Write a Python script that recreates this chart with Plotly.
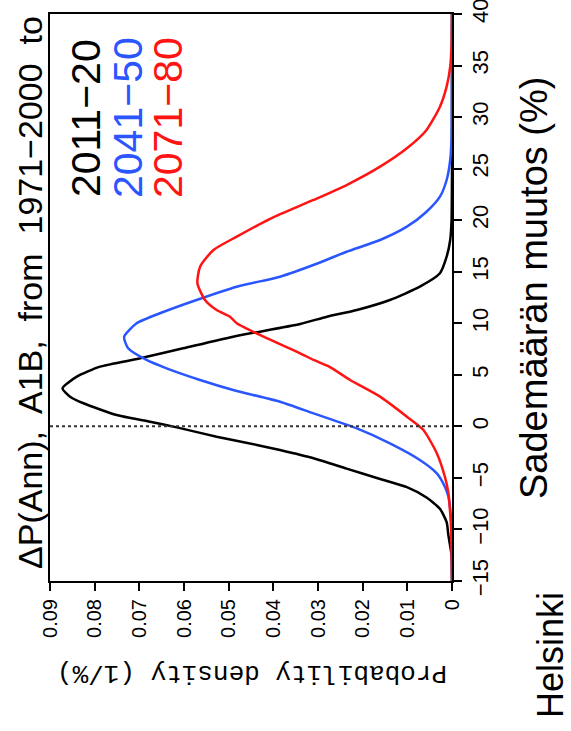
import plotly.graph_objects as go

# Precipitation change (%) and probability density (1/%)
black_change = [-15, -12.5, -10.6, -9.3, -8.0, -6.9, -5.9, -5.1, -4.1, -3.1, -2.3, -1.8, -1.0, -0.1, 0.45, 1.1, 2.24, 2.88, 3.69, 4.82, 5.79, 6.6, 7.57, 8.7, 9.93, 10.64, 11.29, 12.26, 13.55, 14.85, 16.46, 18.08, 20, 25, 40]
black_density = [0, 0.0001, 0.0008, 0.0012, 0.0027, 0.0057, 0.0101, 0.0161, 0.0236, 0.031, 0.0385, 0.0437, 0.0527, 0.0616, 0.0676, 0.0751, 0.0825, 0.0855, 0.0872, 0.084, 0.0788, 0.0698, 0.0602, 0.049, 0.034, 0.028, 0.0213, 0.0139, 0.0072, 0.0027, 0.0012, 0.0004, 0.0001, 0, 0]

blue_change = [-15, -10, -8.5, -6.82, -5.85, -4.56, -3.26, -1.65, -0.2, 1.26, 2.39, 3.53, 4.5, 5.63, 6.44, 7.57, 8.7, 10.0, 10.97, 12.26, 13.55, 14.52, 15.82, 16.94, 18.08, 19.37, 20.82, 22.28, 23.9, 25.84, 28, 40]
blue_density = [0, 0.0001, 0.0003, 0.0008, 0.0016, 0.0034, 0.0072, 0.0139, 0.0213, 0.031, 0.0385, 0.049, 0.0564, 0.0639, 0.0684, 0.0725, 0.0734, 0.0706, 0.0654, 0.0572, 0.0482, 0.0385, 0.03, 0.0236, 0.0161, 0.0101, 0.0057, 0.0027, 0.0012, 0.0004, 0.0001, 0]

red_change = [-15, -10, -8.43, -6.49, -4.88, -2.61, -0.35, 0.94, 2.88, 4.5, 5.8, 6.44, 7.09, 8.7, 10.0, 10.64, 11.29, 12.26, 13.88, 15.49, 17.11, 18.4, 20.18, 21.96, 23.41, 25.19, 26.97, 28.75, 31.01, 32.95, 34.89, 37, 40]
red_density = [0, 0.0002, 0.0004, 0.0008, 0.0016, 0.0034, 0.0064, 0.0101, 0.0161, 0.0228, 0.0275, 0.031, 0.034, 0.0422, 0.0482, 0.0497, 0.0527, 0.0553, 0.057, 0.0564, 0.0534, 0.0482, 0.0405, 0.031, 0.0236, 0.0161, 0.0101, 0.0057, 0.0027, 0.0012, 0.0004, 0.0001, 0]

series_labels = ["2011\u221220", "2041\u221250", "2071\u221280"]
series_colors = ["#000000", "#2a55ff", "#ff1414"]

density_ticks = [0, 0.01, 0.02, 0.03, 0.04, 0.05, 0.06, 0.07, 0.08, 0.09]
density_ticktext = ["0", "0.01", "0.02", "0.03", "0.04", "0.05", "0.06", "0.07", "0.08", "0.09"]
change_ticks = [-15, -10, -5, 0, 5, 10, 15, 20, 25, 30, 35, 40]
change_ticktext = ["\u221215", "\u221210", "\u22125", "0", "5", "10", "15", "20", "25", "30", "35", "40"]

FONT = "Liberation Sans, Arial, sans-serif"

fig = go.Figure()
for xs, ys, col, name in [(black_density, black_change, series_colors[0], series_labels[0]),
                          (blue_density, blue_change, series_colors[1], series_labels[1]),
                          (red_density, red_change, series_colors[2], series_labels[2])]:
    fig.add_trace(go.Scatter(x=xs, y=ys, mode="lines", name=name,
                             line=dict(color=col, width=2.5, shape="spline", smoothing=0.6),
                             showlegend=False))

fig.add_shape(type="line", xref="x", yref="y", x0=0.09, x1=0, y0=0, y1=0,
              line=dict(color="#333333", width=2, dash="dot"))

L, R, T, B = 50, 119, 14, 150
W, H = 571, 731
pw, ph = W - L - R, H - T - B

def px(x):
    return (x - L) / pw

def py(y):
    return (H - B - y) / ph

ann = []
ann.append(dict(text="\u0394P(Ann),\u00a0 A1B,\u00a0 from\u00a0 1971\u22122000\u00a0 to", x=px(30), y=py(293),
                textangle=-90, font=dict(size=34, color="black", family=FONT)))
for lab, col, cx in zip(series_labels, series_colors, [86, 128, 168]):
    ann.append(dict(text=lab, x=px(cx), y=py(118), textangle=-90,
                    font=dict(size=41, color=col, family=FONT)))
ann.append(dict(text="Sademäärän muutos (%)", x=px(534), y=py(288), textangle=-90,
                font=dict(size=38, color="black", family=FONT)))
ann.append(dict(text="Helsinki", x=px(551), y=py(655), textangle=-90,
                font=dict(size=36, color="black", family=FONT)))
ann.append(dict(text="Probability density (1/%)", x=px(252), y=py(673), textangle=180,
                font=dict(size=26, color="black", family="Liberation Mono, monospace")))
for a in ann:
    a.update(xref="paper", yref="paper", xanchor="center", yanchor="middle", showarrow=False)

fig.update_layout(
    width=W, height=H,
    margin=dict(l=L, r=R, t=T, b=B, autoexpand=False),
    paper_bgcolor="white", plot_bgcolor="white",
    annotations=ann,
    xaxis=dict(range=[0.09, 0], tickvals=density_ticks, ticktext=density_ticktext,
               tickangle=-90, ticks="outside", ticklen=8, tickwidth=1.5, tickcolor="black",
               showline=True, linewidth=2, linecolor="black", mirror=True,
               showgrid=False, zeroline=False, ticklabeloverflow="allow", automargin=False,
               tickfont=dict(size=20, color="black", family=FONT)),
    yaxis=dict(range=[-15, 40], side="right", tickvals=change_ticks, ticktext=change_ticktext,
               tickangle=-90, ticks="outside", ticklen=8, tickwidth=1.5, tickcolor="black",
               showline=True, linewidth=2, linecolor="black", mirror=True,
               showgrid=False, zeroline=False, ticklabeloverflow="allow", automargin=False,
               tickfont=dict(size=22, color="black", family=FONT)),
)

fig.write_html("out.html")
